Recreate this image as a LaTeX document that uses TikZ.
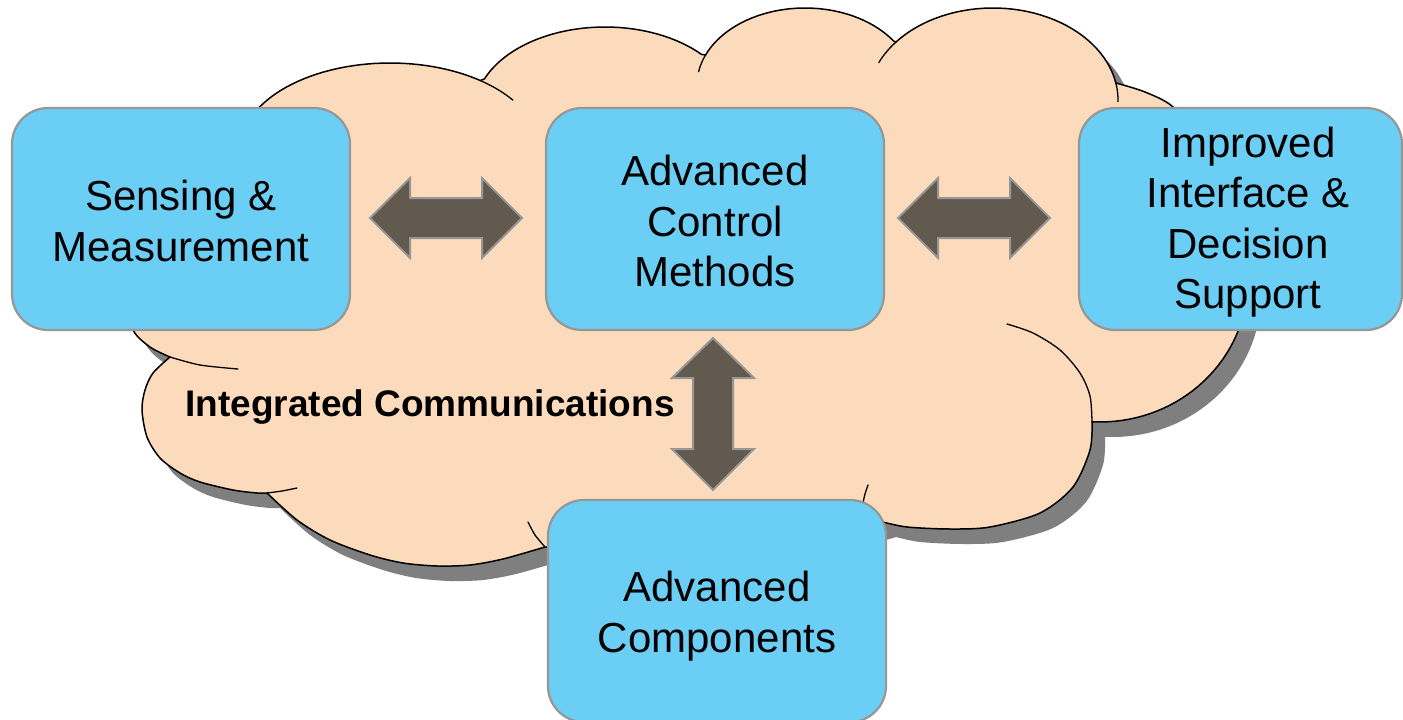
\documentclass[tikz,border=0pt]{standalone}
\usepackage{fontspec}
\setmainfont{Liberation Sans}
\definecolor{cloudfill}{HTML}{FCDBBC}
\definecolor{boxfill}{HTML}{6BCEF5}
\definecolor{boxline}{HTML}{979797}
\definecolor{arrowfill}{HTML}{625A4E}
\definecolor{shadowgray}{HTML}{7F7F7F}
\tikzset{
  boxnode/.style={draw=boxline, line width=2.2pt, fill=boxfill, rounded corners=36pt,
    minimum width=338pt, minimum height=222pt, inner sep=0pt},
  boxtext/.style={align=center, font=\fontsize{42}{50.5}\selectfont, inner sep=0pt},
  blockarrow/.style={draw=boxline, line width=2pt, fill=arrowfill, line join=miter},
  cloudline/.style={draw=black, line width=1.5pt, fill=cloudfill, line join=miter},
  curl/.style={draw=black, line width=1.3pt, line cap=round},
}
\newcommand{\cloudshape}{%
  plot[smooth] coordinates {(170,357) (150,347) (133,330) (123,295) (120,250) (138,195) (180,155) (245,128)}
  -- plot[domain=-165:-53, samples=40, variable=\t] ({390+150*cos(\t)}, {150+87*sin(\t)})
  -- plot[domain=-158:-42, samples=40, variable=\t] ({605+130*cos(\t)}, {110+83*sin(\t)})
  -- plot[domain=-157:-35, samples=40, variable=\t] ({805+108*cos(\t)}, {85+77*sin(\t)})
  -- plot[domain=-141:-10.6, samples=40, variable=\t] ({993+125*cos(\t)}, {100+92*sin(\t)})
  -- plot[smooth] coordinates {(1116,83) (1145,92) (1173,107) (1195,140) (1205,180)}
  -- plot[domain=-45:93, samples=50, variable=\t] ({1100+148*cos(\t)}, {280+142*sin(\t)})
  -- plot[smooth] coordinates {(1092,422) (1090,450) (1073,487) (1040,513) (990,527) (950,529) (907,527) (883,522)}
  -- plot[smooth] coordinates {(883,522) (820,538) (720,548) (620,550) (545,547)}
  -- plot[smooth] coordinates {(545,547) (503,559) (470,565) (437,566) (403,563) (370,555) (330,540) (297,520) (267,493)}
  -- plot[smooth] coordinates {(267,493) (257,493) (233,490) (200,482) (180,473) (160,458) (147,437) (142,410) (145,390) (153,373) (170,357)}
  -- cycle}
\begin{document}
\begin{tikzpicture}[x=1pt,y=-1pt]
\useasboundingbox (0,0) rectangle (1403,720);
\fill[white] (0,0) rectangle (1403,720);
% cloud shadow
\fill[shadowgray, shift={(13,15)}] \cloudshape;
% cloud
\path[cloudline] \cloudshape;
% inner curls
\draw[curl] plot[smooth] coordinates {(170,357) (200,365) (238,369)};
\draw[curl] plot[smooth] coordinates {(267,493) (282,491) (297,488)};
\draw[curl] plot[smooth] coordinates {(545,547) (535,535) (528,522)};
\draw[curl] plot[smooth] coordinates {(863,503) (865,494) (868,485)};
\draw[curl] plot[smooth] coordinates {(1092,422) (1090,396) (1080,373) (1060,350) (1033,333) (1007,324)};
\draw[curl] plot[domain=-10.6:1, samples=8, variable=\t] ({993+125*cos(\t)}, {100+92*sin(\t)});
\draw[curl] plot[domain=-141:-156, samples=8, variable=\t] ({993+125*cos(\t)}, {100+92*sin(\t)});
\draw[curl] plot[domain=-157:-170, samples=8, variable=\t] ({805+108*cos(\t)}, {85+77*sin(\t)});
\draw[curl] plot[domain=-53:-35, samples=8, variable=\t] ({390+150*cos(\t)}, {150+87*sin(\t)});
% label of the cloud
\node[font=\fontsize{37}{43}\bfseries\selectfont, inner sep=0pt] (comm) at (430,407) {Integrated Communications};
% boxes
\node[boxnode] (sense) at (181,219) {};
\node[boxtext] (senset) at (181,221) {Sensing \&\\Measurement};
\node[boxnode] (control) at (715,219) {};
\node[boxtext] (controlt) at (715,221) {Advanced\\Control\\Methods};
\node[boxnode, minimum width=323pt] (iface) at (1240.5,219) {};
\node[boxtext] (ifacet) at (1248,222) {Improved\\Interface \&\\Decision\\Support};
\node[boxnode] (comp) at (717,611) {};
\node[boxtext] (compt) at (717,616) {Advanced\\Components};
% block arrows
\draw[blockarrow] (370,218) -- (410,178) -- (410,198) -- (482,198) -- (482,178) -- (522,218)
  -- (482,258) -- (482,238) -- (410,238) -- (410,258) -- cycle;
\draw[blockarrow] (898,218) -- (938,178) -- (938,198) -- (1010,198) -- (1010,178) -- (1050,218)
  -- (1010,258) -- (1010,238) -- (938,238) -- (938,258) -- cycle;
\draw[blockarrow] (713,338) -- (754,378) -- (733,378) -- (733,449) -- (754,449) -- (713,490)
  -- (672,449) -- (693,449) -- (693,378) -- (672,378) -- cycle;
\end{tikzpicture}
\end{document}
